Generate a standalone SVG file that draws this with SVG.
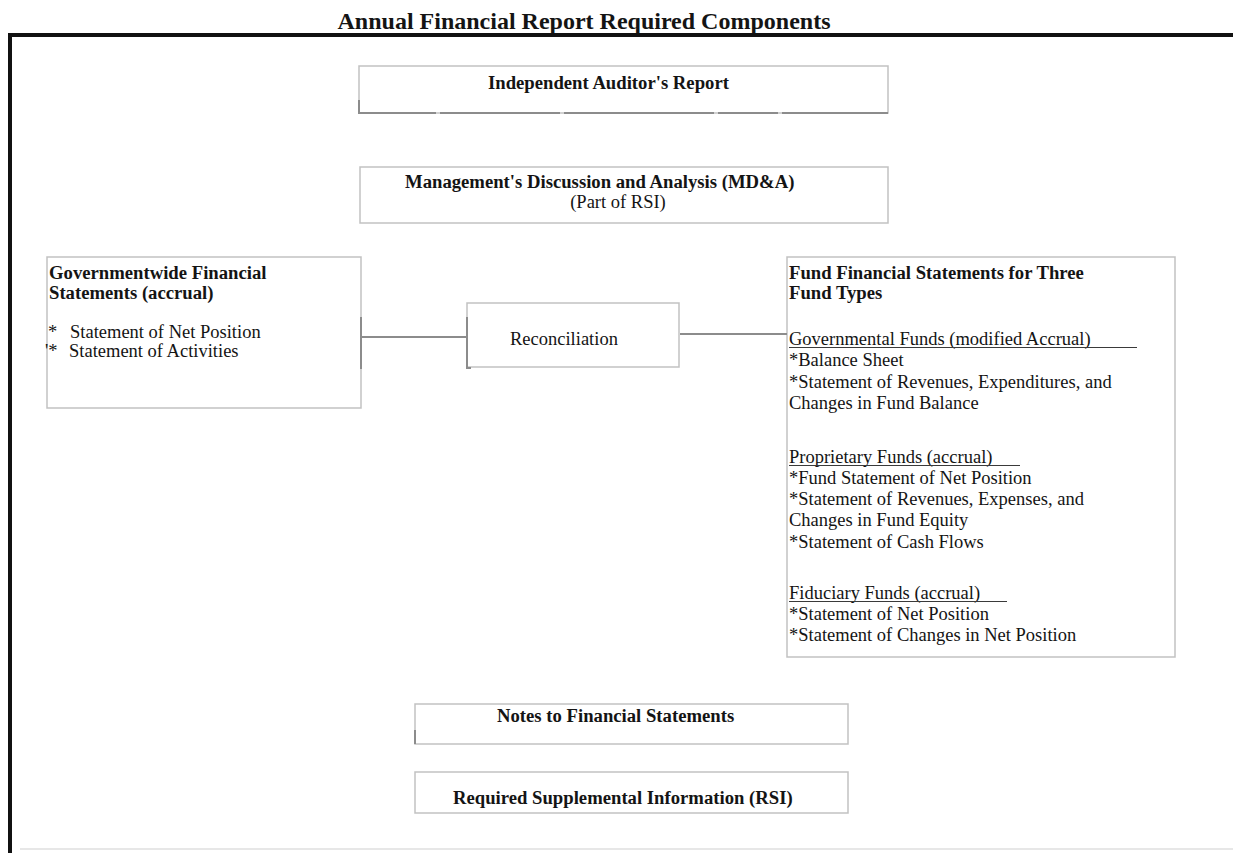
<svg xmlns="http://www.w3.org/2000/svg" width="1233" height="853" viewBox="0 0 1233 853">
<style>
.t{font-family:"Liberation Serif","Times New Roman",serif;font-size:18.5px;fill:#141414}
.b{font-weight:bold;font-size:18.7px}
.box{fill:#fff;stroke:#c2c2c2;stroke-width:1.5}
.conn{stroke:#8c8c8c;stroke-width:2;fill:none}
.edge{stroke:#8c8c8c;stroke-width:2;fill:none}
.ul{stroke:#3a3a3a;stroke-width:1.2}
</style>
<rect width="1233" height="853" fill="#fff"/>
<g id="frame">
<text class="t b" x="584" y="29" text-anchor="middle" style="font-size:24px">Annual Financial Report Required Components</text>
<path d="M8,35 H1233" stroke="#111" stroke-width="4" fill="none"/>
<path d="M10,33 V853" stroke="#111" stroke-width="4" fill="none"/>
<path d="M20,849 H1233" stroke="#d0d0d0" stroke-width="1.2" fill="none"/>
</g>
<g id="auditor">
<rect class="box" x="359" y="66" width="529" height="47"/>
<path class="edge" d="M359,100 V113 H888" stroke-dasharray="90,4,120,4,150,4,60,4,200"/>
<text class="t b" x="488" y="89">Independent Auditor's Report</text>
</g>
<g id="mdna">
<rect class="box" x="360" y="167" width="528" height="56"/>
<text class="t b" x="405" y="188">Management's Discussion and Analysis (MD&amp;A)</text>
<text class="t" x="618" y="208" text-anchor="middle">(Part of RSI)</text>
</g>
<g id="govwide">
<rect class="box" x="47" y="257" width="314" height="151"/>
<text class="t b" x="49" y="279">Governmentwide Financial</text>
<text class="t b" x="49" y="299">Statements (accrual)</text>
<text class="t" x="48" y="338">*</text>
<text class="t" x="70" y="338">Statement of Net Position</text>
<text class="t" x="45" y="357">'*</text>
<text class="t" x="69" y="357">Statement of Activities</text>
</g>
<g id="reconciliation">
<rect class="box" x="467" y="303" width="212" height="64"/>
<text class="t" x="510" y="345">Reconciliation</text>
</g>
<g id="fund">
<rect class="box" x="787" y="257" width="388" height="400"/>
<text class="t b" x="789" y="279">Fund Financial Statements for Three</text>
<text class="t b" x="789" y="299">Fund Types</text>
<text class="t" x="789" y="345">Governmental Funds (modified Accrual)</text>
<line class="ul" x1="789" y1="347.5" x2="1137" y2="347.5"/>
<text class="t" x="789" y="366">*Balance Sheet</text>
<text class="t" x="789" y="387.5">*Statement of Revenues, Expenditures, and</text>
<text class="t" x="789" y="409">Changes in Fund Balance</text>
<text class="t" x="789" y="463">Proprietary Funds (accrual)</text>
<line class="ul" x1="789" y1="465.5" x2="1020" y2="465.5"/>
<text class="t" x="789" y="484">*Fund Statement of Net Position</text>
<text class="t" x="789" y="505">*Statement of Revenues, Expenses, and</text>
<text class="t" x="789" y="526">Changes in Fund Equity</text>
<text class="t" x="789" y="547.5">*Statement of Cash Flows</text>
<text class="t" x="789" y="599">Fiduciary Funds (accrual)</text>
<line class="ul" x1="789" y1="601.5" x2="1007" y2="601.5"/>
<text class="t" x="789" y="620">*Statement of Net Position</text>
<text class="t" x="789" y="641">*Statement of Changes in Net Position</text>
</g>
<g id="notes">
<rect class="box" x="415" y="704" width="433" height="40"/>
<path class="edge" d="M415,730 V744"/>
<text class="t b" x="497" y="722">Notes to Financial Statements</text>
</g>
<g id="rsi">
<rect class="box" x="415" y="772" width="433" height="41"/>
<text class="t b" x="453" y="804">Required Supplemental Information (RSI)</text>
</g>
<g id="connectors">
<path class="conn" d="M361,317 V369"/>
<path class="conn" d="M361,337 H467"/>
<path class="conn" d="M467,317 V368 H471"/>
<path class="conn" d="M680,334 H787" stroke-width="1.5"/>
</g>
</svg>
